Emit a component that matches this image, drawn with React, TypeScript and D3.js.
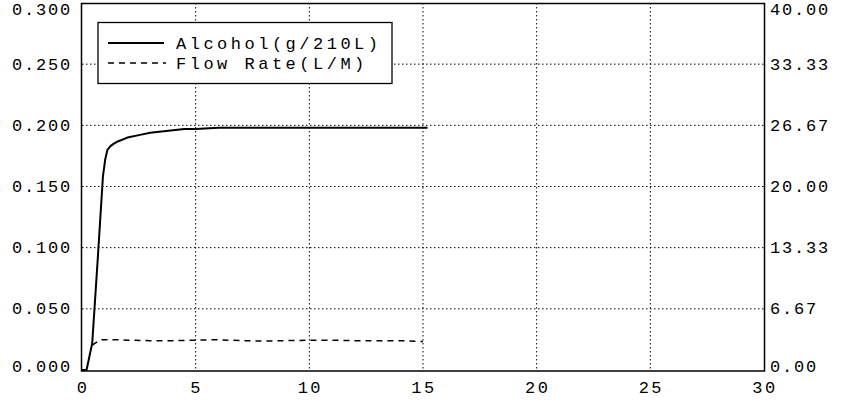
import React from "react";
import * as d3 from "d3";

const alcoholTime = [0, 0.2, 0.45, 0.7, 0.92, 1.02, 1.12, 1.25, 1.4, 1.6, 2.0, 2.5, 3.0, 3.5, 4.0, 4.5, 5, 6, 7, 8, 9, 10, 11, 12, 13, 14, 15, 15.2];
const alcoholValues = [0, 0, 0.022, 0.093, 0.158, 0.172, 0.18, 0.183, 0.185, 0.187, 0.19, 0.192, 0.194, 0.195, 0.196, 0.197, 0.197, 0.198, 0.198, 0.198, 0.198, 0.198, 0.198, 0.198, 0.198, 0.198, 0.198, 0.198];

const flowTime = [0.45, 0.8, 1.5, 2, 3, 4, 5, 6, 7, 8, 9, 10, 11, 12, 13, 14, 15];
const flowValues = [2.7, 3.3, 3.3, 3.25, 3.2, 3.2, 3.25, 3.3, 3.2, 3.15, 3.2, 3.25, 3.25, 3.2, 3.2, 3.2, 3.1];

const xTicks = [0, 5, 10, 15, 20, 25, 30];
const leftTicks = [0, 0.05, 0.1, 0.15, 0.2, 0.25, 0.3];
const leftLabels = ["0.000", "0.050", "0.100", "0.150", "0.200", "0.250", "0.300"];
const rightLabels = ["0.00", "6.67", "13.33", "20.00", "26.67", "33.33", "40.00"];
const legendLabels = ["Alcohol(g/210L)", "Flow Rate(L/M)"];

const W = 849;
const H = 406;
const L = 82, R = 764, T = 3, B = 370;
const FONT = "'Liberation Mono', 'DejaVu Sans Mono', monospace";

export default function App() {
  const x = d3.scaleLinear().domain([0, 30]).range([L, R]);
  const yL = d3.scaleLinear().domain([0, 0.3]).range([B, T]);
  const yR = d3.scaleLinear().domain([0, 40]).range([B, T]);

  const alcLine = d3
    .line<number>()
    .x((_, i) => x(alcoholTime[i]))
    .y((d) => yL(d))
    .curve(d3.curveLinear)(alcoholValues) as string;
  const flowLine = d3
    .line<number>()
    .x((_, i) => x(flowTime[i]))
    .y((d) => yR(d))
    .curve(d3.curveLinear)(flowValues) as string;

  const clampY = (y: number) => Math.max(9.5, Math.min(366.5, y));

  return (
    <svg
      width={W}
      height={H}
      style={{ position: "absolute", left: 0, top: 0, background: "#fff" }}
      fontFamily={FONT}
    >
      <rect x={0} y={0} width={W} height={H} fill="#fff" />
      {xTicks.slice(1, -1).map((t) => (
        <line key={"vx" + t} x1={x(t)} x2={x(t)} y1={T} y2={B} stroke="#000" strokeWidth={1} strokeDasharray="1.5,2.5" />
      ))}
      {leftTicks.slice(1, -1).map((t) => (
        <line key={"hy" + t} x1={L} x2={R} y1={yL(t)} y2={yL(t)} stroke="#000" strokeWidth={1} strokeDasharray="1.5,2.5" />
      ))}
      <rect x={L - 0.5} y={T + 0.5} width={R - L + 1} height={B - T + 0.5} fill="none" stroke="#000" strokeWidth={1.5} />
      <path d={alcLine} fill="none" stroke="#000" strokeWidth={2} strokeLinejoin="round" />
      <path d={flowLine} fill="none" stroke="#000" strokeWidth={1.5} strokeDasharray="6,5" />
      {leftTicks.map((t, i) => (
        <text key={"ll" + i} x={72} y={clampY(yL(t)) + 5.5} textAnchor="end" fontSize={17} letterSpacing={1.8} fill="#000">
          {leftLabels[i]}
        </text>
      ))}
      {leftTicks.map((t, i) => (
        <text key={"rl" + i} x={770} y={clampY(yL(t)) + 5.5} textAnchor="start" fontSize={17} letterSpacing={1.8} fill="#000">
          {rightLabels[i]}
        </text>
      ))}
      {xTicks.map((t) => (
        <text key={"xl" + t} x={x(t) + 1} y={393} textAnchor="middle" fontSize={17} letterSpacing={2.5} fill="#000">
          {String(t)}
        </text>
      ))}
      <rect x={98} y={22.5} width={294} height={61} fill="#fff" stroke="#000" strokeWidth={1.3} />
      <line x1={108} x2={164} y1={43} y2={43} stroke="#000" strokeWidth={2} />
      <line x1={108} x2={166} y1={63} y2={63} stroke="#000" strokeWidth={1.5} strokeDasharray="6,5" />
      <text x={176} y={49} fontSize={17} letterSpacing={3.5} fill="#000">{legendLabels[0]}</text>
      <text x={176} y={69} fontSize={17} letterSpacing={3.5} fill="#000">{legendLabels[1]}</text>
    </svg>
  );
}
